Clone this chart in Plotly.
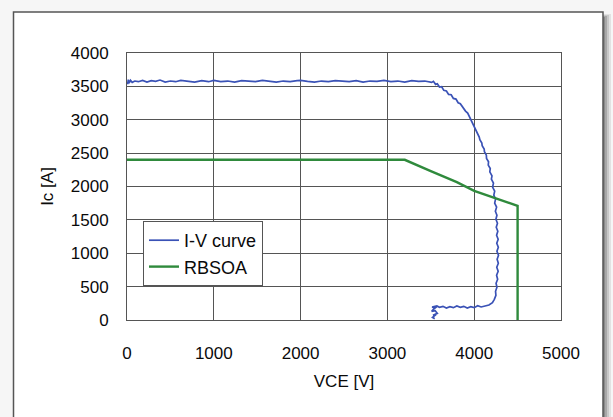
import plotly.graph_objects as go

# Measured I-V trajectory during turn-off
iv_vce = [0, 8, 15, 25, 40, 60, 90, 130, 180, 230, 280, 330, 380, 440, 500, 560, 620, 700,
          780, 860, 940, 1000, 1080, 1160, 1240, 1320, 1400, 1480, 1560, 1640, 1720, 1800,
          1880, 1960, 2000, 2080, 2160, 2240, 2320, 2400, 2480, 2560, 2640, 2720, 2800,
          2880, 2960, 3040, 3120, 3200, 3280, 3360, 3430, 3480, 3510,
          3530, 3555, 3575, 3600, 3625, 3650, 3680, 3705, 3735, 3760, 3790, 3815, 3840,
          3860, 3885, 3900, 3925, 3940, 3962, 3975, 3995, 4005, 4028, 4035, 4058, 4065,
          4088, 4092, 4115, 4118, 4140, 4142, 4165, 4162, 4185, 4180, 4205, 4198, 4222,
          4212, 4236, 4226, 4246, 4236, 4258, 4244, 4262, 4250, 4268, 4254, 4272, 4258,
          4276, 4260, 4278, 4262, 4280, 4264, 4278, 4260, 4276, 4258, 4270, 4252, 4262,
          4246, 4250, 4232, 4210,
          4170, 4120, 4080, 4040, 4000, 3960, 3920, 3880, 3840, 3800, 3760, 3720, 3680,
          3640, 3600, 3570, 3540, 3515, 3545, 3570, 3530, 3510, 3550, 3575, 3525, 3560,
          3520, 3545]
iv_ic = [3560, 3535, 3600, 3550, 3590, 3560, 3580, 3570, 3590, 3565, 3585, 3575, 3595, 3565,
         3580, 3570, 3590, 3575, 3565, 3585, 3570, 3590, 3570, 3580, 3565, 3585, 3575, 3570,
         3590, 3575, 3565, 3580, 3570, 3585, 3590, 3575, 3565, 3580, 3570, 3585, 3575, 3570,
         3585, 3565, 3580, 3575, 3590, 3570, 3580, 3565, 3585, 3575, 3580, 3570, 3560,
         3575, 3530, 3540, 3490, 3495, 3440, 3430, 3380, 3375, 3320, 3310, 3255, 3240,
         3200, 3170, 3130, 3100, 3060, 3010, 2970, 2920, 2880, 2830, 2790, 2740, 2700,
         2650, 2610, 2560, 2520, 2470, 2420, 2370, 2320, 2270, 2220, 2160, 2110, 2050,
         1990, 1930, 1870, 1810, 1750, 1690, 1630, 1570, 1510, 1450, 1390, 1330, 1270,
         1210, 1150, 1090, 1030, 970, 910, 850, 790, 730, 670, 610, 550, 490,
         430, 370, 310, 260, 225,
         205, 195, 215, 185, 200, 180, 205, 190, 210, 185, 200, 180, 205,
         190, 210, 200, 195, 180, 200, 160, 130, 140, 100, 70, 80, 40,
         20, 0]

# Reverse-bias safe operating area boundary
rbsoa_vce = [0, 3200, 3500, 3800, 4000, 4500, 4500]
rbsoa_ic = [2400, 2400, 2230, 2065, 1935, 1710, 0]

x_ticks = [0, 1000, 2000, 3000, 4000, 5000]
y_ticks = [0, 500, 1000, 1500, 2000, 2500, 3000, 3500, 4000]

FONT = "Liberation Sans, Arial, sans-serif"
INK = "#0a0a0a"

fig = go.Figure()
fig.add_trace(go.Scatter(x=iv_vce, y=iv_ic, mode="lines", name="I-V curve",
                         line=dict(color="#3a52b6", width=1.7)))
fig.add_trace(go.Scatter(x=rbsoa_vce, y=rbsoa_ic, mode="lines", name="RBSOA",
                         line=dict(color="#2f8a3c", width=2.4)))

# White card with a dark border and a soft shadow on the right
pw, ph = 434, 267
def px(x):
    return (x - 127) / pw
def py(y):
    return (320 - y) / ph

shapes = []
for i, c in enumerate(["#e2e2e2", "#c8c8c8", "#a8a8a8", "#8a8a8a"]):
    shapes.append(dict(type="rect", xref="paper", yref="paper", layer="below",
                       x0=px(16), x1=px(611 - i * 2), y0=py(425), y1=py(14 + i),
                       fillcolor=c, line=dict(width=0)))
shapes.append(dict(type="rect", xref="paper", yref="paper", layer="below",
                   x0=px(13.5), x1=px(603), y0=py(425), y1=py(12),
                   fillcolor="white", line=dict(color="#555555", width=1.5)))

fig.update_layout(
    width=613, height=417,
    margin=dict(l=127, r=52, t=53, b=97),
    paper_bgcolor="#f6f6f6",
    plot_bgcolor="white",
    font=dict(family=FONT, size=16, color=INK),
    shapes=shapes,
    showlegend=True,
    legend=dict(x=px(143), y=py(221), xanchor="left", yanchor="top",
                bgcolor="white", bordercolor="#555555", borderwidth=1,
                font=dict(family=FONT, size=18, color=INK),
                tracegroupgap=0, itemwidth=30),
    xaxis=dict(range=[0, 5000], tickvals=x_ticks, ticktext=[str(v) for v in x_ticks],
               showgrid=True, gridcolor="#555555", gridwidth=1, zeroline=False,
               showline=True, linecolor="#555555", linewidth=1, mirror=True,
               ticks="", ticklabelstandoff=18,
               tickfont=dict(family=FONT, size=17, color=INK),
               title=dict(text="VCE [V]", standoff=12,
                          font=dict(family=FONT, size=17, color=INK))),
    yaxis=dict(range=[0, 4000], tickvals=y_ticks, ticktext=[str(v) for v in y_ticks],
               showgrid=True, gridcolor="#555555", gridwidth=1, zeroline=False,
               showline=True, linecolor="#555555", linewidth=1, mirror=True,
               ticks="", ticklabelstandoff=14,
               tickfont=dict(family=FONT, size=17, color=INK),
               title=dict(text="Ic [A]", standoff=12,
                          font=dict(family=FONT, size=17, color=INK))),
)

fig.write_html("out.html")
